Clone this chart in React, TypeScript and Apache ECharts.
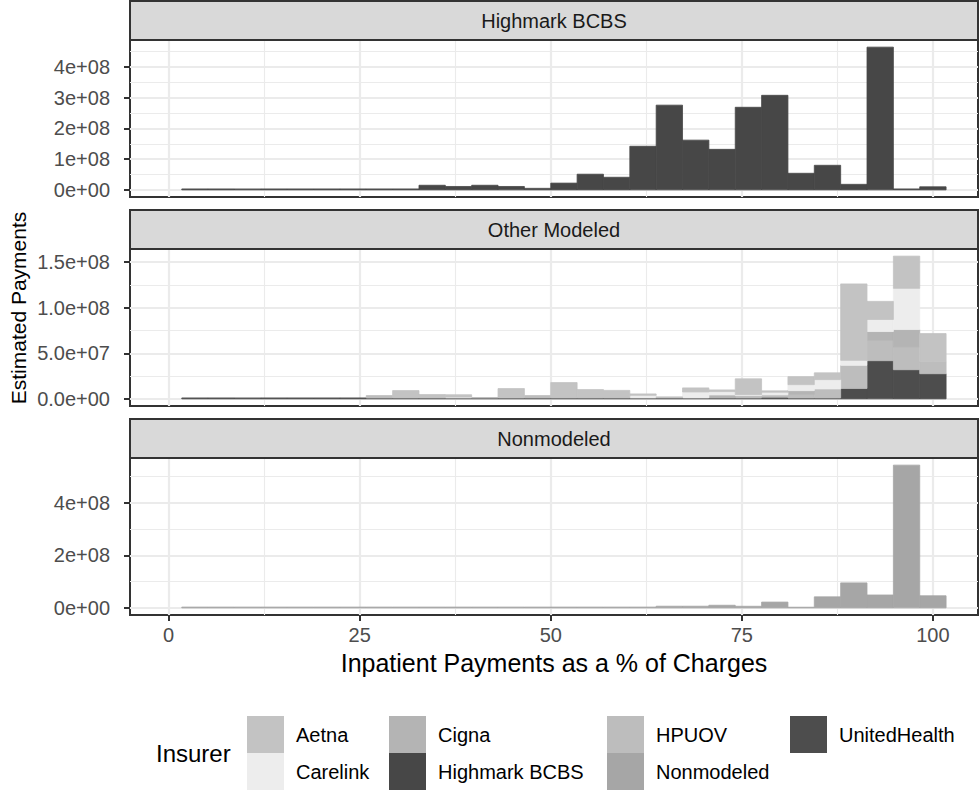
import React, { useEffect, useRef } from "react";
import * as echarts from "echarts";

// ---------- data ----------
const facets = ["Highmark BCBS", "Other Modeled", "Nonmodeled"];
const insurers = ["Aetna", "Carelink", "Cigna", "Highmark BCBS", "HPUOV", "Nonmodeled", "UnitedHealth"];
const insurerColors = ["#c3c3c3", "#ededed", "#b4b4b4", "#474747", "#bdbdbd", "#a6a6a6", "#4d4d4d"];

// histogram bin edges (% of charges), 30 bins
const binEdges = [
  -1.724, 1.724, 5.172, 8.621, 12.069, 15.517, 18.966, 22.414, 25.862, 29.31, 32.759, 36.207,
  39.655, 43.103, 46.552, 50.0, 53.448, 56.897, 60.345, 63.793, 67.241, 70.69, 74.138, 77.586,
  81.034, 84.483, 87.931, 91.379, 94.828, 98.276, 101.724,
];

// estimated payments per bin, in millions of dollars
const highmarkBCBS = [0, 3, 3, 3, 3, 3, 3, 3, 3, 3, 15, 11, 15, 11, 5, 22, 51, 41, 142, 276, 162, 132, 269, 308, 54, 80, 18, 465, 3, 10];
const aetna = [0, 0, 0, 0, 0, 0, 0, 0, 0, 8.1, 3.7, 2.5, 0.3, 10.3, 0, 16.9, 9.2, 8.3, 1.5, 1.2, 4.4, 1.8, 17.3, 1.5, 8.8, 7.4, 83.9, 19.9, 35.3, 30.9];
const carelink = [0, 0, 0, 0, 0, 0, 0, 0, 0, 0, 0, 1.0, 0, 0, 0, 0, 0, 0, 2.9, 0, 6.6, 3.7, 1.1, 2.9, 6.6, 10.3, 5.5, 13.2, 45.3, 0];
const cigna = [0, 0, 0, 0, 0, 0, 0, 0, 0, 0, 0, 0, 0, 0, 0, 0, 0, 0, 0, 0, 0, 3.3, 0, 0, 4.0, 0, 0, 9.6, 19.1, 0];
const hpuov = [0, 0, 0, 0, 0, 0, 0, 0, 2.6, 0, 0, 0, 0, 0, 2.6, 0, 0, 0, 0, 0, 0, 0, 2.6, 2.6, 4.0, 9.9, 25.4, 22.4, 25.0, 13.2];
const unitedHealth = [0, 1, 1, 1, 1, 1, 1, 1, 1, 1, 1, 1, 1, 1, 1, 1, 1, 1, 1, 1, 1, 1, 1, 1.8, 1, 1, 11.4, 41.9, 32.0, 27.6];
const nonmodeled = [0, 3, 3, 3, 3, 3, 3, 3, 3, 3, 3, 3, 3, 3, 3, 3, 3, 3, 3, 6.3, 6.3, 10, 6, 22, 2.5, 42, 95, 49, 543, 46];

// ticks
const xTicks = [0, 25, 50, 75, 100];
const xTickLabels = ["0", "25", "50", "75", "100"];
const xMinorTicks = [12.5, 37.5, 62.5, 87.5];
const yTicks = [
  [0, 100, 200, 300, 400],
  [0, 50, 100, 150],
  [0, 200, 400],
];
const yTickLabels = [
  ["0e+00", "1e+08", "2e+08", "3e+08", "4e+08"],
  ["0.0e+00", "5.0e+07", "1.0e+08", "1.5e+08"],
  ["0e+00", "2e+08", "4e+08"],
];
const yMinorTicks = [
  [50, 150, 250, 350, 450],
  [25, 75, 125],
  [100, 300, 500],
];

const xTitle = "Inpatient Payments as a % of Charges";
const yTitle = "Estimated Payments";
const legendTitle = "Insurer";

// ---------- layout ----------
const FONT = "'Liberation Sans', Arial, Helvetica, sans-serif";
const X_MIN = -5.05;
const X_MAX = 105.9;
const PANEL_LEFT = 130;
const PANEL_W = 848;
const PANEL_H = 157;
const STRIP_H = 39;
const panelTops = [40, 249, 458];

function buildOption() {
  const seriesByInsurer: Record<string, number[]> = {
    Aetna: aetna,
    Carelink: carelink,
    Cigna: cigna,
    "Highmark BCBS": highmarkBCBS,
    HPUOV: hpuov,
    Nonmodeled: nonmodeled,
    UnitedHealth: unitedHealth,
  };
  const facetMembers: string[][] = [
    ["Highmark BCBS"],
    ["Aetna", "Carelink", "Cigna", "HPUOV", "UnitedHealth"],
    ["Nonmodeled"],
  ];

  const grid: any[] = [];
  const xAxis: any[] = [];
  const yAxis: any[] = [];
  const series: any[] = [];
  const graphic: any[] = [];

  const nBins = binEdges.length - 1;

  facets.forEach((facet, k) => {
    const top = panelTops[k];
    grid.push({
      left: PANEL_LEFT, top, width: PANEL_W, height: PANEL_H,
      show: true, borderColor: "#333333", borderWidth: 2, backgroundColor: "#ffffff",
    });

    const members = insurers.slice().reverse().filter((n) => facetMembers[k].includes(n));
    const base = new Array(nBins).fill(0);
    let maxTotal = 0;
    members.forEach((name) => {
      const vals = seriesByInsurer[name];
      const color = insurerColors[insurers.indexOf(name)];
      const items: number[][] = [];
      for (let i = 0; i < nBins; i++) {
        const v = vals[i];
        if (v > 0) items.push([binEdges[i], binEdges[i + 1], base[i], base[i] + v]);
        base[i] += v;
        if (base[i] > maxTotal) maxTotal = base[i];
      }
      series.push({
        type: "custom",
        name,
        xAxisIndex: 2 * k,
        yAxisIndex: 2 * k,
        itemStyle: { color },
        encode: { x: [0, 1], y: [2, 3] },
        data: items,
        silent: true,
        renderItem: (_p: any, api: any) => {
          const a = api.coord([api.value(0), api.value(3)]);
          const b = api.coord([api.value(1), api.value(2)]);
          return {
            type: "rect",
            shape: { x: a[0], y: a[1], width: b[0] - a[0], height: b[1] - a[1] },
            style: { fill: color, stroke: color, lineWidth: 0.8 },
          };
        },
      });
    });

    const yMin = -0.05 * maxTotal;
    const yMax = 1.05 * maxTotal;
    const isBottom = k === facets.length - 1;

    xAxis.push({
      type: "value", gridIndex: k, min: X_MIN, max: X_MAX, position: "bottom",
      axisLine: { show: false, onZero: false },
      axisTick: { show: isBottom, customValues: xTicks, length: 6, lineStyle: { color: "#333333", width: 2 } },
      axisLabel: {
        show: isBottom, customValues: xTicks, margin: 10, color: "#4d4d4d", fontSize: 20, fontFamily: FONT,
        formatter: (v: number) => xTickLabels[xTicks.findIndex((t) => Math.abs(t - v) < 1e-6)] ?? "",
      },
      splitLine: { show: true, lineStyle: { color: "#ebebeb", width: 2.2 } },
      name: isBottom ? xTitle : "",
      nameLocation: "middle",
      nameGap: 35,
      nameTextStyle: { fontSize: 25, color: "#000000", fontFamily: FONT, verticalAlign: "top" },
    });
    xAxis.push({
      type: "value", gridIndex: k, min: X_MIN, max: X_MAX, position: "bottom",
      axisLine: { show: false, onZero: false },
      axisTick: { show: false, customValues: xMinorTicks },
      axisLabel: { show: false, customValues: xMinorTicks },
      splitLine: { show: true, lineStyle: { color: "#ebebeb", width: 1.1 } },
    });

    const yt = yTicks[k];
    const yl = yTickLabels[k];
    yAxis.push({
      type: "value", gridIndex: k, min: yMin, max: yMax, position: "left",
      axisLine: { show: false, onZero: false },
      axisTick: { show: true, customValues: yt, length: 6, lineStyle: { color: "#333333", width: 2 } },
      axisLabel: {
        show: true, customValues: yt, margin: 20, color: "#4d4d4d", fontSize: 20, fontFamily: FONT,
        formatter: (v: number) => yl[yt.findIndex((t) => Math.abs(t - v) < 1e-6)] ?? "",
      },
      splitLine: { show: true, lineStyle: { color: "#ebebeb", width: 2.2 } },
    });
    yAxis.push({
      type: "value", gridIndex: k, min: yMin, max: yMax, position: "left",
      axisLine: { show: false, onZero: false },
      axisTick: { show: false, customValues: yMinorTicks[k] },
      axisLabel: { show: false, customValues: yMinorTicks[k] },
      splitLine: { show: true, lineStyle: { color: "#ebebeb", width: 1.1 } },
    });

    // strip
    graphic.push({
      type: "rect",
      shape: { x: PANEL_LEFT, y: top - STRIP_H, width: PANEL_W, height: STRIP_H },
      style: { fill: "#d9d9d9", stroke: "#333333", lineWidth: 2 },
      z: 10,
    });
    graphic.push({
      type: "text",
      x: PANEL_LEFT + PANEL_W / 2,
      y: top - STRIP_H / 2,
      style: {
        text: facet, fill: "#1a1a1a", fontSize: 20, fontFamily: FONT,
        align: "center", verticalAlign: "middle", textAlign: "center", textVerticalAlign: "middle",
      },
      z: 11,
    });
  });

  // y title
  graphic.push({
    type: "text",
    x: 18, y: 308, rotation: Math.PI / 2,
    style: {
      text: yTitle, fill: "#000000", fontSize: 21, fontFamily: FONT,
      align: "center", verticalAlign: "middle", textAlign: "center", textVerticalAlign: "middle",
    },
  });

  // legend (column-major, 2 rows)
  const keyX = [247, 389, 607, 790];
  const rowY = [716, 753];
  const KEY = 37;
  graphic.push({
    type: "text",
    x: 156, y: rowY[1],
    style: {
      text: legendTitle, fill: "#000000", fontSize: 24, fontFamily: FONT,
      align: "left", verticalAlign: "middle", textAlign: "left", textVerticalAlign: "middle",
    },
  });
  insurers.forEach((name, i) => {
    const col = Math.floor(i / 2);
    const row = i % 2;
    graphic.push({
      type: "rect",
      shape: { x: keyX[col], y: rowY[row], width: KEY, height: KEY },
      style: { fill: insurerColors[i] },
    });
    graphic.push({
      type: "text",
      x: keyX[col] + KEY + 12,
      y: rowY[row] + KEY / 2,
      style: {
        text: name, fill: "#000000", fontSize: 20, fontFamily: FONT,
        align: "left", verticalAlign: "middle", textAlign: "left", textVerticalAlign: "middle",
      },
    });
  });

  return {
    animation: false,
    backgroundColor: "#ffffff",
    textStyle: { fontFamily: FONT },
    grid,
    xAxis,
    yAxis,
    series,
    graphic,
  };
}

export default function App() {
  const ref = useRef<HTMLDivElement>(null);
  useEffect(() => {
    if (!ref.current) return;
    const chart = echarts.init(ref.current, undefined, { renderer: "svg" });
    chart.setOption(buildOption() as any);
    return () => chart.dispose();
  }, []);
  return (
    <div
      ref={ref}
      style={{ position: "absolute", left: 0, top: 0, width: 979, height: 797, background: "#ffffff" }}
    />
  );
}
